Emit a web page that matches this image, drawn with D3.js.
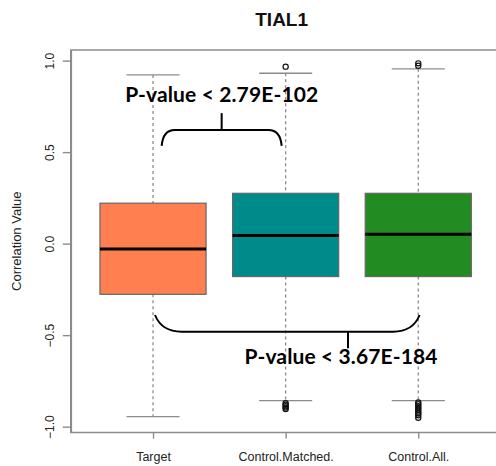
<!DOCTYPE html>
<html><head><meta charset="utf-8">
<script src="https://cdn.jsdelivr.net/npm/d3@7"></script>
<style>body{margin:0;background:#fff}</style>
</head><body>
<svg id="c" width="496" height="466"></svg>
<script>
const categories = ["Target", "Control.Matched.", "Control.All."];
const q1 = [-0.277, -0.180, -0.180];
const median = [-0.029, 0.044, 0.051];
const q3 = [0.221, 0.275, 0.275];
const whiskerLow = [-0.945, -0.858, -0.858];
const whiskerHigh = [0.922, 0.931, 0.955];
const outliers = [
  [],
  [0.967, -0.872, -0.880, -0.888, -0.896, -0.904],
  [0.985, 0.972, -0.868, -0.878, -0.888, -0.898, -0.908, -0.918, -0.928, -0.938, -0.952]
];
const colors = ["#FF7F50", "#008B8B", "#228B22"];
const yTicks = [-1.0, -0.5, 0.0, 0.5, 1.0];
const title = "TIAL1";
const yLabel = "Correlation Value";
const pvalTop = "P-value < 2.79E-102";
const pvalBottom = "P-value < 3.67E-184";

const svg = d3.select("#c");
const x = d3.scaleLinear().domain([0.38, 3.62]).range([70.8, 500.5]);
const y = d3.scaleLinear().domain([-1.032, 1.058]).range([432.5, 50]);
const bw = 0.4; // half box width in x units
const frameCol = "#8c8c8c";

// frame
svg.append("path")
  .attr("d", `M${x(3.62)},${y(1.058)}H${x(0.38)}V${y(-1.032)}H${x(3.62)}`)
  .attr("fill", "none").attr("stroke", frameCol).attr("stroke-width", 1.6);

// y axis
const yAxis = svg.append("g").attr("transform", `translate(${x(0.38)},0)`)
  .call(d3.axisLeft(y).tickValues(yTicks).tickFormat(d3.format(".1f")).tickSize(8).tickSizeOuter(0));
yAxis.select(".domain").attr("stroke", frameCol).attr("stroke-width", 1.6);
yAxis.selectAll(".tick line").attr("stroke", frameCol).attr("stroke-width", 1.4);
yAxis.selectAll(".tick text")
  .attr("x", null).attr("dy", null)
  .attr("transform", "translate(-17,0) rotate(-90)")
  .attr("text-anchor", "middle")
  .attr("font-family", "Liberation Sans, Arial, sans-serif")
  .attr("font-size", 12).attr("fill", "#222");

// x axis
const xAxis = svg.append("g").attr("transform", `translate(0,${y(-1.032)})`)
  .call(d3.axisBottom(x).tickValues([1, 2, 3]).tickFormat((d) => categories[d - 1]).tickSize(6).tickSizeOuter(0));
xAxis.select(".domain").remove();
xAxis.selectAll(".tick line").attr("stroke", frameCol).attr("stroke-width", 1.4);
xAxis.selectAll(".tick text")
  .attr("y", 28).attr("dy", null)
  .attr("font-family", "Liberation Sans, Arial, sans-serif")
  .attr("font-size", 12.5).attr("fill", "#222");

// boxes
const data = categories.map((c, i) => ({ i: i + 1, q1: q1[i], med: median[i], q3: q3[i], lo: whiskerLow[i], hi: whiskerHigh[i], out: outliers[i], col: colors[i] }));
const g = svg.append("g");
data.forEach((d) => {
  g.append("line").attr("x1", x(d.i)).attr("x2", x(d.i)).attr("y1", y(d.hi)).attr("y2", y(d.q3))
    .attr("stroke", "#8c8c8c").attr("stroke-width", 1.3).attr("stroke-dasharray", "3,3");
  g.append("line").attr("x1", x(d.i)).attr("x2", x(d.i)).attr("y1", y(d.q1)).attr("y2", y(d.lo))
    .attr("stroke", "#8c8c8c").attr("stroke-width", 1.3).attr("stroke-dasharray", "3,3");
  [d.hi, d.lo].forEach((v) => {
    g.append("line").attr("x1", x(d.i - bw / 2)).attr("x2", x(d.i + bw / 2)).attr("y1", y(v)).attr("y2", y(v))
      .attr("stroke", "#8c8c8c").attr("stroke-width", 1.4);
  });
  g.append("rect").attr("x", x(d.i - bw)).attr("width", x(d.i + bw) - x(d.i - bw))
    .attr("y", y(d.q3)).attr("height", y(d.q1) - y(d.q3))
    .attr("fill", d.col).attr("stroke", "#666").attr("stroke-width", 1.2);
  g.append("line").attr("x1", x(d.i - bw)).attr("x2", x(d.i + bw)).attr("y1", y(d.med)).attr("y2", y(d.med))
    .attr("stroke", "#000").attr("stroke-width", 3);
  g.selectAll(null).data(d.out).enter().append("circle")
    .attr("cx", x(d.i)).attr("cy", (v) => y(v)).attr("r", 2.6)
    .attr("fill", "none").attr("stroke", "#111").attr("stroke-width", 1.2);
});

// title
svg.append("text").attr("x", x(1.97)).attr("y", 26).attr("text-anchor", "middle")
  .attr("font-family", "Liberation Sans, Arial, sans-serif").attr("font-weight", "bold")
  .attr("font-size", 19).attr("fill", "#111").text(title);

// y label
svg.append("text").attr("transform", `translate(21,${(y(-1.032) + y(1.058)) / 2}) rotate(-90)`)
  .attr("text-anchor", "middle").attr("font-family", "Liberation Sans, Arial, sans-serif")
  .attr("font-size", 13).attr("fill", "#222").text(yLabel);

// annotation brackets
const ann = svg.append("g").attr("fill", "none").attr("stroke", "#000").attr("stroke-width", 2);
{
  const xl = 1.065, xr = 1.97, yb = 0.621, ye = 0.534, ys = 0.713, xm = (xl + xr) / 2;
  ann.append("path").attr("d",
    `M${x(xl)},${y(ye)} Q${x(xl + 0.01)},${y(yb)} ${x(xl + 0.1)},${y(yb)} L${x(xr - 0.1)},${y(yb)} Q${x(xr - 0.01)},${y(yb)} ${x(xr)},${y(ye)}`);
  ann.append("line").attr("x1", x(xm)).attr("x2", x(xm)).attr("y1", y(yb)).attr("y2", y(ys));
  svg.append("text").attr("x", x(0.79)).attr("y", y(0.776))
    .attr("font-family", "Lato, 'Open Sans', sans-serif").attr("font-weight", "bold")
    .attr("font-size", 21).attr("textLength", 193).attr("lengthAdjust", "spacing")
    .attr("fill", "#000").text(pvalTop);
}
{
  const xl = 1.015, xr = 3.01, yb = -0.481, ye = -0.39, ys = -0.572, xm = 2.47;
  ann.append("path").attr("d",
    `M${x(xl)},${y(ye)} Q${x(xl + 0.05)},${y(yb)} ${x(xl + 0.2)},${y(yb)} L${x(xr - 0.2)},${y(yb)} Q${x(xr - 0.05)},${y(yb)} ${x(xr)},${y(ye)}`);
  ann.append("line").attr("x1", x(xm)).attr("x2", x(xm)).attr("y1", y(yb)).attr("y2", y(ys));
  svg.append("text").attr("x", x(1.69)).attr("y", y(-0.659))
    .attr("font-family", "Lato, 'Open Sans', sans-serif").attr("font-weight", "bold")
    .attr("font-size", 21).attr("textLength", 193).attr("lengthAdjust", "spacing")
    .attr("fill", "#000").text(pvalBottom);
}
</script>
</body></html>
